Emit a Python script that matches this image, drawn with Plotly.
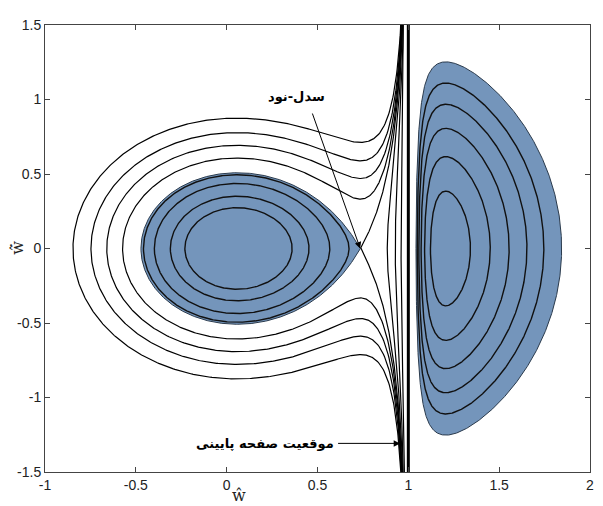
import numpy as np
import plotly.graph_objects as go

# ---- values ----
LAMBDA = 0.0513                      # load parameter (centre ~0.06, saddle ~0.736, right centre ~1.206)
SADDLE_W = 0.736
open_left_w0 = [-0.846, -0.747, -0.66, -0.573]    # v=0 crossings of open orbits (left side)
closed_left_w0 = [-0.458, -0.398, -0.31, -0.23]   # v=0 crossings of closed orbits inside loop
right_branch_w0 = [0.884, 0.928, 0.96]            # v=0 crossings of orbits between saddle and plate
right_closed_w0 = [1.342, 1.451, 1.555, 1.653, 1.746]  # v=0 crossings of closed orbits (w>1)
right_fill_w0 = 1.844                             # outer edge of shaded region (w>1)
PLATE_W = 1.0

x_ticks = [-1, -0.5, 0, 0.5, 1, 1.5, 2]
x_tick_text = ["-1", "-0.5", "0", "0.5", "1", "1.5", "2"]
y_ticks = [-1.5, -1, -0.5, 0, 0.5, 1, 1.5]
y_tick_text = ["-1.5", "-1", "-0.5", "0", "0.5", "1", "1.5"]

label_saddle = "سدل-نود"
label_plate = "موقعیت صفحه پایینی"

FILL = "#7495bb"


def V(w):
    return 0.5 * w ** 2 - LAMBDA / (1.0 - w)


def vel(E, w):
    return np.sqrt(np.clip(2.0 * (E - V(w)), 0, None))


def bisect(E, a, b, n=80):
    fa = V(a) - E
    for _ in range(n):
        m = 0.5 * (a + b)
        fm = V(m) - E
        if np.sign(fm) == np.sign(fa):
            a, fa = m, fm
        else:
            b = m
    return 0.5 * (a + b)


def cos_space(a, b, n=400):
    t = np.linspace(0, np.pi, n)
    return a + (b - a) * (1 - np.cos(t)) / 2


def closed_curve(E, a, b):
    w = cos_space(a, b)
    v = vel(E, w)
    xs = np.concatenate([w, w[::-1]])
    ys = np.concatenate([v, -v[::-1]])
    return xs, ys


def open_curve(E, w0):
    w1 = cos_space(w0, w0 + 0.9 * (1 - w0), 300)
    w2 = 1 - np.geomspace(0.1 * (1 - w0), 1e-6, 300)
    w = np.concatenate([w1, w2[1:]])
    v = vel(E, w)
    v = np.minimum(v, 5)
    xs = np.concatenate([w[::-1], w])
    ys = np.concatenate([-v[::-1], v])
    return xs, ys


# left well centre and right well centre (minima of V)
wc_left = 0.0565
wc_right = 1.206
E_s = V(SADDLE_W)

fig = go.Figure()

line_style = dict(color="black", width=1.2)

# shaded homoclinic loop
wl = bisect(E_s, -1.0, wc_left)
xs, ys = closed_curve(E_s, wl, SADDLE_W)
fig.add_trace(go.Scatter(x=xs, y=ys, mode="lines", fill="toself", fillcolor=FILL,
                         line=dict(color="#2a3a4c", width=1.0), hoverinfo="skip"))

# shaded right region
E_rf = V(right_fill_w0)
wr = bisect(E_rf, 1.0000001, wc_right)
xs, ys = closed_curve(E_rf, wr, right_fill_w0)
fig.add_trace(go.Scatter(x=xs, y=ys, mode="lines", fill="toself", fillcolor=FILL,
                         line=dict(color="#2a3a4c", width=1.0), hoverinfo="skip"))

# open orbits left
for w0 in open_left_w0:
    xs, ys = open_curve(V(w0), w0)
    fig.add_trace(go.Scatter(x=xs, y=ys, mode="lines", line=line_style, hoverinfo="skip"))

# separatrix right branch
xs, ys = open_curve(E_s, SADDLE_W)
fig.add_trace(go.Scatter(x=xs, y=ys, mode="lines", line=line_style, hoverinfo="skip"))

# orbits between saddle and plate
for w0 in right_branch_w0:
    xs, ys = open_curve(V(w0), w0)
    fig.add_trace(go.Scatter(x=xs, y=ys, mode="lines", line=line_style, hoverinfo="skip"))

# closed orbits inside loop
for w0 in closed_left_w0:
    E = V(w0)
    w1 = bisect(E, wc_left, SADDLE_W)
    xs, ys = closed_curve(E, w0, w1)
    fig.add_trace(go.Scatter(x=xs, y=ys, mode="lines", line=dict(color="#111", width=1.4),
                             hoverinfo="skip"))

# closed orbits right
for w0 in right_closed_w0:
    E = V(w0)
    w1 = bisect(E, 1.0000001, wc_right)
    xs, ys = closed_curve(E, w1, w0)
    fig.add_trace(go.Scatter(x=xs, y=ys, mode="lines", line=dict(color="#111", width=1.4),
                             hoverinfo="skip"))

# plate position
fig.add_trace(go.Scatter(x=[PLATE_W, PLATE_W], y=[-1.5, 1.5], mode="lines",
                         line=dict(color="black", width=3), hoverinfo="skip"))

axis_common = dict(showgrid=False, zeroline=False, showline=True, mirror="ticks",
                   ticks="inside", ticklen=5, linecolor="#444", tickcolor="#444", linewidth=1,
                   tickfont=dict(family="Liberation Sans", size=14, color="#222"))

fig.update_layout(
    width=595, height=498,
    margin=dict(l=36, r=9, t=12, b=34),
    plot_bgcolor="white", paper_bgcolor="white",
    showlegend=False,
    xaxis=dict(range=[-1, 2], tickvals=x_ticks, ticktext=x_tick_text, **axis_common),
    yaxis=dict(range=[-1.5, 1.5], tickvals=y_ticks, ticktext=y_tick_text, **axis_common),
)

# axis titles
fig.add_annotation(xref="paper", yref="paper", x=0.356, y=-0.052, text="ŵ", showarrow=False,
                   font=dict(family="DejaVu Serif", size=16, color="#222"), yanchor="middle")
fig.add_annotation(xref="paper", yref="paper", x=-0.072, y=0.502, text="ŵ\u0307", showarrow=False,
                   textangle=-90, font=dict(family="DejaVu Serif", size=16, color="#222"))

# arrows and labels
fig.add_annotation(x=0.735, y=0.0, ax=0.469, ay=0.916, xref="x", yref="y", axref="x", ayref="y",
                   text="", showarrow=True, arrowhead=2, arrowsize=1.3, arrowwidth=1,
                   arrowcolor="black", standoff=0, startstandoff=0)
fig.add_annotation(x=0.382, y=1.02, xref="x", yref="y", text="<b>" + label_saddle + "</b>",
                   showarrow=False, font=dict(family="DejaVu Sans", size=13, color="black"))
fig.add_annotation(x=0.955, y=-1.308, ax=0.605, ay=-1.308, xref="x", yref="y", axref="x", ayref="y",
                   text="", showarrow=True, arrowhead=2, arrowsize=1.3, arrowwidth=1,
                   arrowcolor="black", standoff=0, startstandoff=0)
fig.add_annotation(x=0.60, y=-1.308, xref="x", yref="y", text="<b>" + label_plate + "</b>",
                   xanchor="right", showarrow=False,
                   font=dict(family="DejaVu Sans", size=13, color="black"))

fig.write_html("out.html")
